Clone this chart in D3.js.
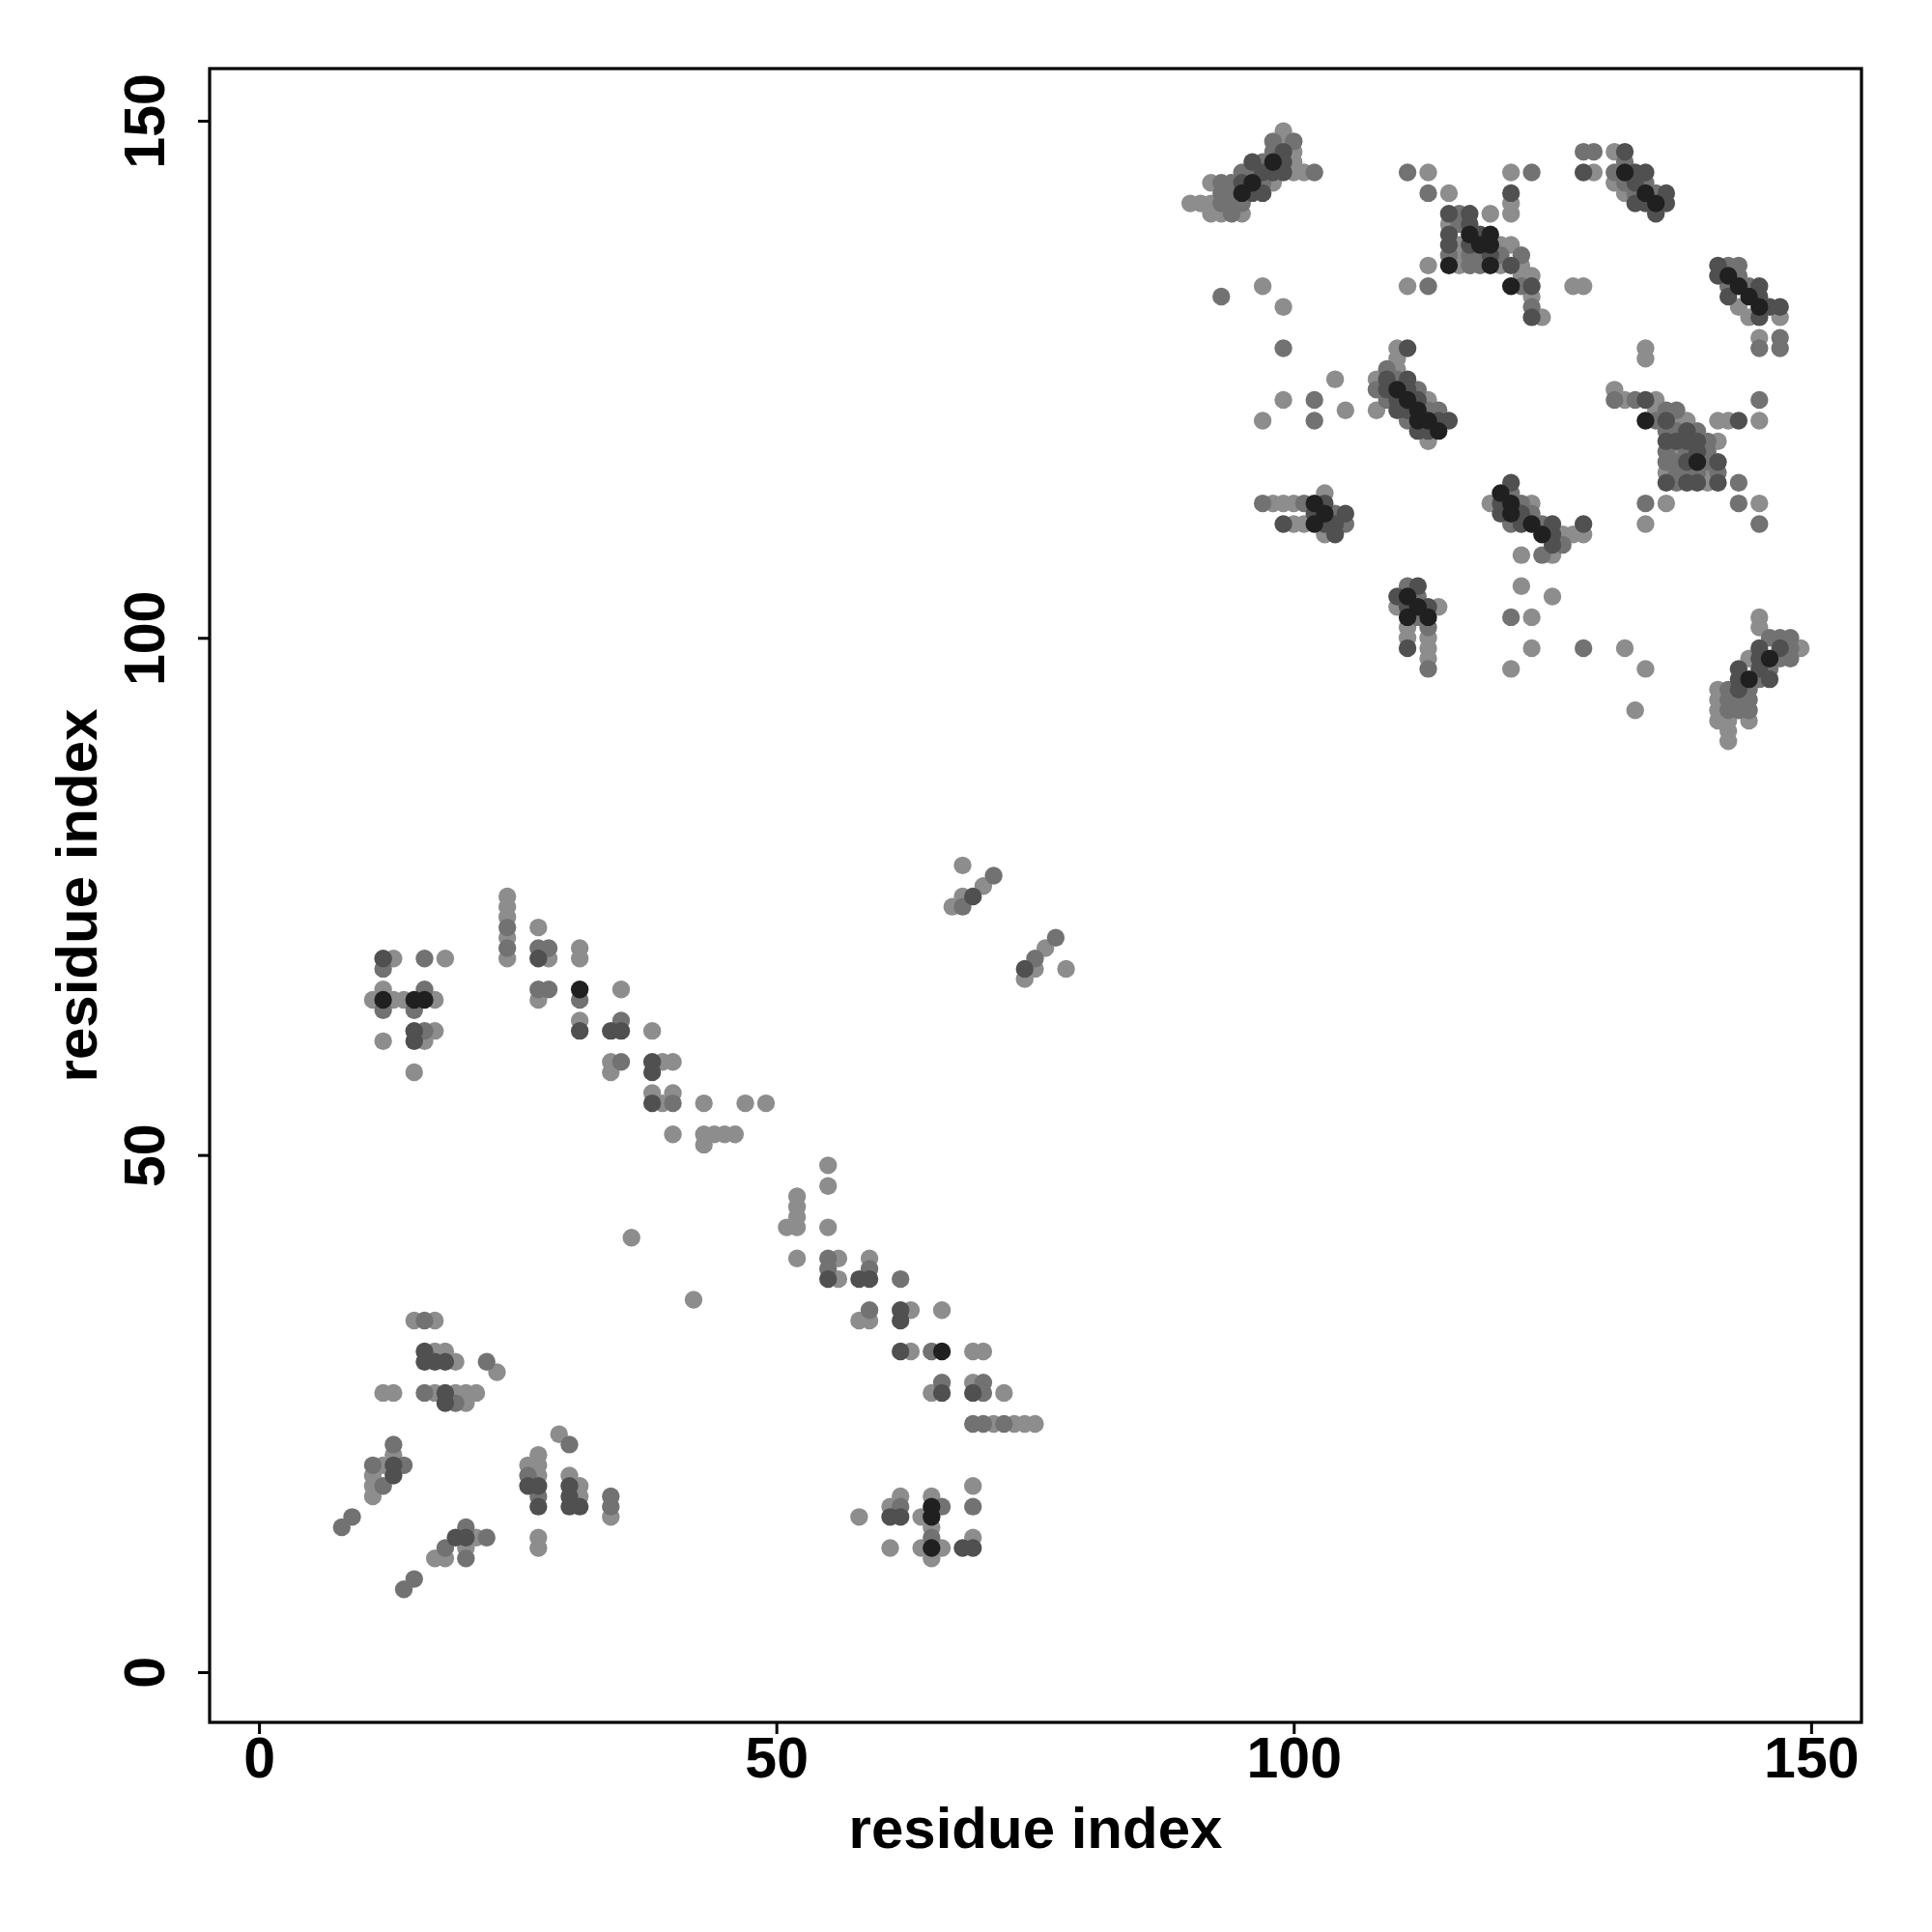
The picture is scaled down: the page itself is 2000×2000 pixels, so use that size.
<!DOCTYPE html>
<html><head><meta charset="utf-8">
<script src="https://cdn.jsdelivr.net/npm/d3@7"></script>
<style>body{margin:0;background:#fff}</style>
</head><body>
<svg id="chart" width="2000" height="2000"></svg>
<script>
// ---- data ----
const xTicks = [0, 50, 100, 150];
const yTicks = [0, 50, 100, 150];
const xLabel = "residue index";
const yLabel = "residue index";

// contact points grouped by shade (light -> black)
const contactsLight = [[15,34],[17,34],[17,31],[18,31],[19,30],[23,29],[12,27],[13,27],[17,27],[19,27],[20,27],[21,27],[20,26],[13,21],[12,20],[11,19],[27,19],[11,18],[11,17],[21,13],[20,12],[17,11],[18,11],[29,23],[27,21],[26,20],[27,20],[27,13],[27,12],[30,19],[31,18],[31,17],[34,15],
[13,69],[18,69],[12,66],[11,65],[13,65],[14,65],[17,65],[17,62],[12,61],[16,61],[15,58],[24,75],[24,74],[24,73],[24,71],[24,69],[27,72],[28,69],[31,70],[31,69],[35,66],[27,65],[31,63],[38,62],[34,59],[39,59],[40,59],[34,58],[38,56],[40,56],[39,55],[40,52],[36,42],
[68,78],[70,76],[68,75],[67,74],[76,70],[75,68],[74,67],[78,68],[43,55],[47,55],[49,55],[43,52],[44,52],[45,52],[46,52],[43,51],[55,49],[55,47],[52,46],[52,45],[52,44],[51,43],[52,43],[55,43],[52,40],[56,40],[59,40],[56,38],[42,36],
[63,35],[66,35],[58,34],[59,34],[63,31],[69,31],[70,31],[69,28],[65,27],[72,27],[71,24],[73,24],[74,24],[75,24],[69,18],[62,17],[65,17],[61,16],[58,15],[64,15],[65,14],[69,13],[61,12],[64,12],[66,12],[65,11],
[99,149],[99,148],[100,147],[100,146],[100,145],[101,145],[92,144],[98,144],[90,142],[91,142],[92,142],[92,141],[93,141],[95,141],[113,145],[115,143],[119,141],[115,140],[116,138],[120,138],[121,138],[116,137],[116,136],[120,136],[122,136],[122,135],[123,135],[123,133],[124,131],[121,145],[121,142],[121,141],[113,136],[111,134],[127,134],[128,134],[97,134],[99,132],[104,125],[99,123],[105,122],[108,122],[97,121],[131,147],[129,145],[131,144],[132,143],[143,132],[144,131],[147,131],[145,129],[134,128],[134,127],[110,128],[110,127],[110,126],[108,125],[113,123],[113,119],[98,113],[99,113],[100,113],[103,114],[100,111],[101,111],[103,110],[110,103],[114,103],[111,101],[111,100],[113,100],[113,99],[113,98],[119,113],[123,113],[126,110],[127,110],[128,110],[122,108],[125,108],[122,105],[125,104],[123,102],[123,99],[132,99],[121,97],[134,97],[133,93],[131,124],[132,123],[135,123],[135,122],[137,121],[138,121],[141,121],[142,121],[145,121],[141,119],[137,118],[136,116],[140,116],[140,115],[136,113],[145,113],[134,111],[145,102],[145,101],[149,99],[144,98],[141,95],[141,94],[141,93],[141,92],[142,92],[144,92],[142,91],[142,90]];

const contactsMid = [[16,34],[19,26],[16,27],[22,30],[13,22],[11,20],[14,20],[12,18],[9,15],[8,14],[15,9],[14,8],[20,14],[22,13],[18,12],[20,11],[30,22],[26,19],[27,17],[34,17],[34,16],
[16,69],[12,68],[16,66],[12,64],[15,64],[16,62],[24,72],[24,70],[27,70],[28,70],[27,66],[28,66],[31,65],[35,63],[35,59],[40,55],
[71,77],[68,74],[77,71],[75,69],[55,40],[55,39],[59,39],[62,38],
[59,35],[65,31],[66,28],[70,28],[70,27],[69,24],[70,24],[72,24],[62,16],[66,16],[69,16],[65,13],
[98,148],[100,148],[98,147],[97,146],[95,145],[96,145],[102,145],[93,144],[94,144],[97,144],[93,143],[94,143],[93,142],[94,142],[95,142],[94,141],[111,145],[113,143],[116,141],[116,140],[115,137],[117,137],[118,137],[120,137],[122,137],[117,136],[118,136],[122,134],[123,132],[123,145],[113,134],[93,133],[99,128],[102,123],[102,121],
[128,147],[129,147],[132,146],[131,145],[132,144],[134,144],[133,143],[135,143],
[142,136],[143,136],[143,135],[142,134],[144,134],[147,129],[145,128],[147,128],
[109,126],[110,125],[108,124],[112,124],[109,123],[113,122],[114,122],[111,121],
[97,113],[101,113],[104,112],[105,111],
[111,105],[112,104],[112,102],[113,101],[113,97],
[121,114],[122,113],[123,112],[121,111],[124,111],[126,109],[124,108],[121,102],[128,99],
[131,123],[133,123],[145,123],[136,122],[137,122],[135,121],[136,120],[137,120],[139,120],[140,119],[136,118],[138,118],[140,118],[136,117],[137,117],[140,117],[137,116],[138,116],[139,116],[141,116],[137,115],[143,115],[134,113],[143,113],[145,111],
[146,100],[147,100],[148,100],[148,99],[147,98],[148,98],[146,97],[145,96],[142,95],[144,95],[142,94],[143,94],[144,94],[142,93],[143,93],[144,93]];

const contactsDark = [[16,31],[16,30],[17,30],[18,30],[18,27],[18,26],[13,20],[13,19],[19,13],[20,13],[26,18],[27,18],[27,16],[30,18],[30,17],[30,16],[31,16],
[12,69],[15,62],[15,61],[27,69],[31,62],[34,62],[35,62],[38,59],[38,58],[38,55],
[69,75],[74,68],
[55,38],[58,38],[59,38],[62,35],[62,34],[62,31],[66,27],[69,27],[61,15],[62,15],[68,12],[69,12],
[99,147],[96,146],[99,146],[97,145],[98,145],[99,145],[95,144],[96,143],[97,143],
[115,141],[117,141],[117,140],[115,139],[118,139],[115,138],[117,138],[119,137],[121,136],[123,134],[123,131],[121,143],
[132,147],[128,145],[133,145],[134,145],[133,144],[136,143],[133,142],[134,142],[136,142],[135,141],
[141,136],[141,135],[145,134],[142,133],[145,133],[146,132],[147,132],[145,131],
[111,128],[109,125],[111,125],[109,124],[111,124],[110,123],[112,123],[110,122],[111,122],[114,121],[115,121],[112,120],[113,120],
[103,113],[102,112],[105,112],[99,111],[103,111],[104,111],[104,110],
[112,105],[110,104],[111,103],[113,103],[111,99],
[121,115],[120,113],[120,112],[122,112],[122,111],[125,111],[128,111],[125,110],[125,109],
[134,123],[136,121],[143,121],[138,120],[136,119],[137,119],[138,119],[139,119],[139,118],[138,117],[141,117],[136,115],[138,115],[139,115],[141,115],
[145,99],[147,99],[145,98],[143,97],[145,97],[143,96],[146,96],[143,95]];

const contactsBlack = [[31,66],[12,65],[15,65],[16,65],[66,31],[65,16],[65,15],[65,12],
[98,146],[96,144],[95,143],[117,139],[119,139],[118,138],[119,138],[115,136],[119,136],[121,134],
[132,145],[134,143],[135,142],[142,135],[143,134],[144,133],[145,132],
[110,124],[111,123],[112,122],[112,121],[113,121],[114,120],
[102,113],[103,112],[102,111],
[111,104],[112,103],[111,102],[113,102],
[120,114],[121,113],[121,112],[123,111],[124,110],
[134,121],[139,117],
[146,98],[144,96]];

const shadeGroups = [
  {pts: contactsLight, fill: "#8d8d8d"},
  {pts: contactsMid, fill: "#727272"},
  {pts: contactsDark, fill: "#505050"},
  {pts: contactsBlack, fill: "#202020"}
];

// ---- layout ----
const box = {left: 217, right: 1927, top: 71, bottom: 1783};
const x = d3.scaleLinear().domain([-4.77, 154.87]).range([box.left, box.right]);
const y = d3.scaleLinear().domain([-4.86, 155.04]).range([box.bottom, box.top]);
const font = "'Liberation Sans', Arial, Helvetica, sans-serif";

const svg = d3.select("#chart");
svg.append("rect").attr("width", 2000).attr("height", 2000).attr("fill", "#fff");

const pts = svg.append("g");
shadeGroups.forEach(g => {
  pts.selectAll(null).data(g.pts).enter().append("circle")
    .attr("cx", d => x(d[0])).attr("cy", d => y(d[1]))
    .attr("r", 9.2).attr("fill", g.fill);
});

// frame
svg.append("rect").attr("x", box.left).attr("y", box.top)
  .attr("width", box.right - box.left).attr("height", box.bottom - box.top)
  .attr("fill", "none").attr("stroke", "#000").attr("stroke-width", 3.2);

// x axis
const gx = svg.append("g").attr("transform", `translate(0,${box.bottom})`)
  .call(d3.axisBottom(x).tickValues(xTicks).tickSize(12).tickFormat(d3.format("d")));
gx.select(".domain").remove();
gx.selectAll("line").attr("stroke", "#000").attr("stroke-width", 3);
gx.selectAll("text").attr("y", 57).attr("dy", null)
  .attr("font-family", font).attr("font-weight", "bold").attr("font-size", 59).attr("fill", "#000");

// y axis
const gy = svg.append("g").attr("transform", `translate(${box.left},0)`)
  .call(d3.axisLeft(y).tickValues(yTicks).tickSize(12).tickFormat(d3.format("d")));
gy.select(".domain").remove();
gy.selectAll("line").attr("stroke", "#000").attr("stroke-width", 3);
gy.selectAll("text").attr("x", null).attr("dy", null)
  .attr("transform", "translate(-47,0) rotate(-90)").attr("text-anchor", "middle")
  .attr("font-family", font).attr("font-weight", "bold").attr("font-size", 59).attr("fill", "#000");

// titles
svg.append("text").attr("x", (box.left + box.right) / 2).attr("y", 1913)
  .attr("text-anchor", "middle").attr("font-family", font).attr("font-weight", "bold")
  .attr("font-size", 60).text(xLabel);
svg.append("text").attr("transform", `translate(100,${(box.top + box.bottom) / 2}) rotate(-90)`)
  .attr("text-anchor", "middle").attr("font-family", font).attr("font-weight", "bold")
  .attr("font-size", 60).text(yLabel);
</script>
</body></html>
